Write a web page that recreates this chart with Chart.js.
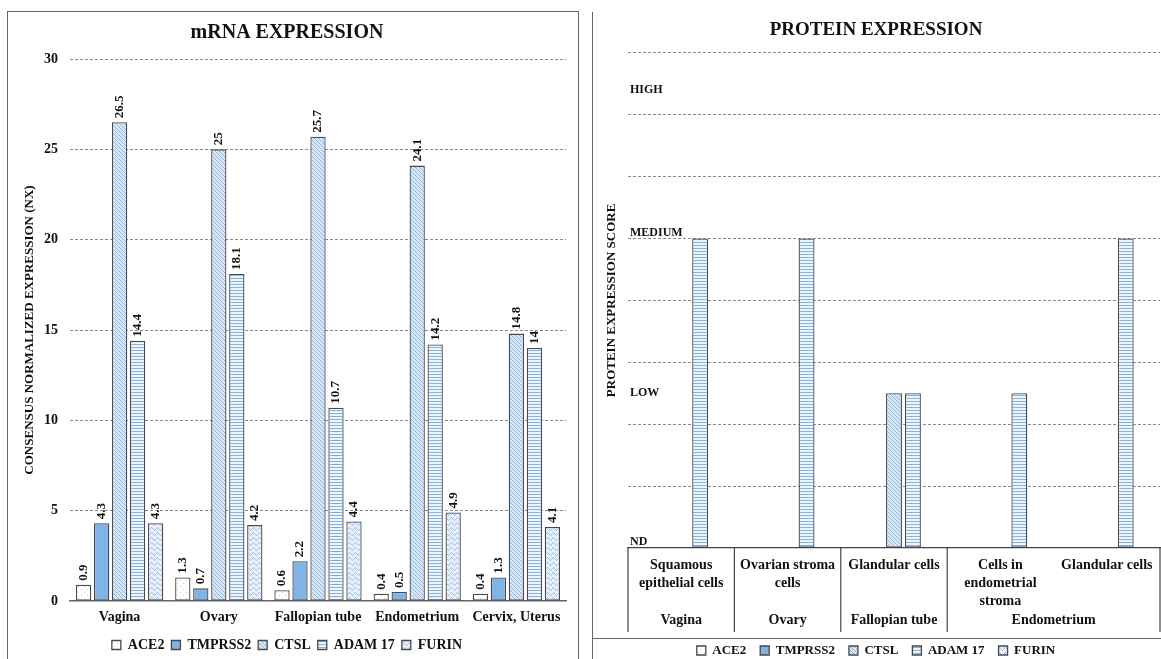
<!DOCTYPE html>
<html>
<head>
<meta charset="utf-8">
<script src="https://cdn.jsdelivr.net/npm/chart.js@4.4.0/dist/chart.umd.min.js"></script>
<style>
  html, body { margin: 0; padding: 0; background: #fff; width: 1161px; height: 659px; overflow: hidden; position: relative; }
  .box { position: absolute; }
  #leftFrame { left: 7px; top: 11px; width: 572px; height: 700px; border: 1.5px solid #666; box-sizing: border-box; pointer-events: none; }
  #rightLine { left: 592px; top: 12px; width: 0; height: 660px; border-left: 1.5px solid #666; }
  #legendLine { left: 592px; top: 638px; width: 569px; height: 0; border-top: 1.5px solid #666; }
  #leftWrap { left: 8px; top: 12px; width: 570px; height: 650px; }
  #rightWrap { left: 592px; top: 12px; width: 569px; height: 655px; }
</style>
</head>
<body>
<div class="box" id="leftWrap"><canvas id="mrnaChart"></canvas></div>
<div class="box" id="rightWrap"><canvas id="proteinChart"></canvas></div>
<div class="box" id="leftFrame"></div>
<div class="box" id="rightLine"></div>
<div class="box" id="legendLine"></div>
<script>
// genes / legend
const geneNames = ['ACE2', 'TMPRSS2', 'CTSL', 'ADAM 17', 'FURIN'];

// mRNA expression (NX)
const tissues = ['Vagina', 'Ovary', 'Fallopian tube', 'Endometrium', 'Cervix, Uterus'];
const mrnaACE2 = [0.9, 1.3, 0.6, 0.4, 0.4];
const mrnaTMPRSS2 = [4.3, 0.7, 2.2, 0.5, 1.3];
const mrnaCTSL = [26.5, 25, 25.7, 24.1, 14.8];
const mrnaADAM17 = [14.4, 18.1, 10.7, 14.2, 14];
const mrnaFURIN = [4.3, 4.2, 4.4, 4.9, 4.1];
const mrnaTicks = [0, 5, 10, 15, 20, 25, 30];

// protein expression score
const cellTypes = [['Squamous', 'epithelial cells'], ['Ovarian stroma', 'cells'], ['Glandular cells'], ['Cells in', 'endometrial', 'stroma'], ['Glandular cells']];
const cellTissues = ['Vagina', 'Ovary', 'Fallopian tube', 'Endometrium'];
const cellTissueSpan = [1, 1, 1, 2];
const protACE2 = [0, 0, 0, 0, 0];
const protTMPRSS2 = [0, 0, 0, 0, 0];
const protCTSL = [0, 0, 2.5, 0, 0];
const protADAM17 = [5, 5, 2.5, 2.5, 5];
const protFURIN = [0, 0, 0, 0, 0];
const scoreNames = ['ND', 'LOW', 'MEDIUM', 'HIGH'];
const scoreValues = [0, 2.5, 5, 7.5];
const scoreGrid = [0, 1, 2, 3, 4, 5, 6, 7, 8];

const serif = "'Liberation Serif', 'Times New Roman', serif";
Chart.defaults.font.family = serif;
Chart.defaults.font.weight = 'bold';
Chart.defaults.color = '#111';

// fill patterns like the excel ones
function makePattern(kind) {
  const c = document.createElement('canvas');
  const g = c.getContext('2d');
  if (kind === 'dots') {
    c.width = 6; c.height = 6;
    g.fillStyle = '#ffffff'; g.fillRect(0, 0, 6, 6);
    g.fillStyle = '#c4d3e3'; g.fillRect(1, 1, 1, 1); g.fillRect(4, 4, 1, 1);
  } else if (kind === 'diag') {
    c.width = 4; c.height = 4;
    g.fillStyle = '#d7e7f8'; g.fillRect(0, 0, 4, 4);
    g.fillStyle = '#8fb6de';
    for (let i = 0; i < 4; i++) g.fillRect(i, i, 1, 1);
  } else if (kind === 'hstripe') {
    c.width = 4; c.height = 3;
    g.fillStyle = '#eef5fc'; g.fillRect(0, 0, 4, 3);
    g.fillStyle = '#84b3e3'; g.fillRect(0, 2, 4, 1);
  } else if (kind === 'zigzag') {
    c.width = 6; c.height = 5;
    g.fillStyle = '#e6effa'; g.fillRect(0, 0, 6, 5);
    g.fillStyle = '#9cc1e7';
    g.fillRect(0, 1, 1, 1); g.fillRect(1, 2, 1, 1); g.fillRect(2, 3, 1, 1);
    g.fillRect(3, 2, 1, 1); g.fillRect(4, 1, 1, 1); g.fillRect(5, 0, 1, 1);
  }
  return g.createPattern(c, 'repeat');
}
const geneFills = [makePattern('dots'), '#80b3e6', makePattern('diag'), makePattern('hstripe'), makePattern('zigzag')];

function buildSets(series, catPct, barPct) {
  return series.map((d, i) => ({
    label: geneNames[i],
    data: d,
    backgroundColor: geneFills[i],
    borderColor: '#4a4a4a',
    borderWidth: 1.3,
    borderSkipped: false,
    categoryPercentage: catPct,
    barPercentage: barPct
  }));
}

const gridColor = ctx => ctx.tick && ctx.tick.value === 0 ? 'rgba(0,0,0,0)' : '#8a8a8a';

// value labels rotated above the bars
const barValueLabels = {
  id: 'barValueLabels',
  afterDatasetsDraw(chart) {
    const ctx = chart.ctx;
    ctx.save();
    ctx.font = 'bold 13px ' + serif;
    ctx.fillStyle = '#111';
    ctx.textAlign = 'left';
    ctx.textBaseline = 'middle';
    chart.data.datasets.forEach((ds, di) => {
      chart.getDatasetMeta(di).data.forEach((bar, i) => {
        ctx.save();
        ctx.translate(bar.x, bar.y - 4);
        ctx.rotate(-Math.PI / 2);
        ctx.fillText(String(ds.data[i]), 0, 0);
        ctx.restore();
      });
    });
    ctx.restore();
  }
};

new Chart(document.getElementById('mrnaChart'), {
  type: 'bar',
  data: {
    labels: tissues,
    datasets: buildSets([mrnaACE2, mrnaTMPRSS2, mrnaCTSL, mrnaADAM17, mrnaFURIN], 0.907, 0.85)
  },
  options: {
    responsive: true,
    maintainAspectRatio: false,
    animation: false,
    layout: { padding: { left: 0, right: 12, top: 0, bottom: 0 } },
    plugins: {
      title: { display: true, text: 'mRNA EXPRESSION', font: { size: 20, weight: 'bold' }, color: '#111', padding: { top: 9, bottom: 14 } },
      legend: {
        position: 'bottom',
        labels: { boxWidth: 9, boxHeight: 9, padding: 7, font: { size: 14, weight: 'bold' }, color: '#111' }
      },
      tooltip: { enabled: false }
    },
    scales: {
      x: {
        grid: { display: false },
        border: { display: true, color: '#666', width: 1.5 },
        ticks: { padding: 0, font: { size: 14, weight: 'bold' }, color: '#111', maxRotation: 0, autoSkip: false },
        afterFit(scale) { scale.height = 30; }
      },
      y: {
        min: mrnaTicks[0],
        max: mrnaTicks[mrnaTicks.length - 1],
        grid: { color: gridColor, lineWidth: 1, drawTicks: false },
        border: { display: false, dash: [3, 2] },
        ticks: { stepSize: mrnaTicks[1] - mrnaTicks[0], padding: 12, font: { size: 14, weight: 'bold' }, color: '#111' },
        title: { display: true, text: 'CONSENSUS NORMALIZED EXPRESSION (NX)', font: { size: 13, weight: 'bold' }, color: '#111', padding: { top: 14, bottom: 0 } },
        afterFit(scale) { scale.width = 62; }
      }
    }
  },
  plugins: [barValueLabels]
});

// ND / LOW / MEDIUM / HIGH written inside the plot
const scoreLabels = {
  id: 'scoreLabels',
  afterDraw(chart) {
    const ctx = chart.ctx;
    const ys = chart.scales.y;
    const baselines = ['bottom', 'middle', 'bottom', 'top'];
    ctx.save();
    ctx.font = 'bold 12px ' + serif;
    ctx.fillStyle = '#111';
    ctx.textAlign = 'left';
    scoreNames.forEach((name, i) => {
      ctx.textBaseline = baselines[i];
      ctx.fillText(name, chart.chartArea.left + 2, ys.getPixelForValue(scoreValues[i]));
    });
    ctx.restore();
  }
};

// table under the protein chart: dividers and tissue names
const tissueTable = {
  id: 'tissueTable',
  afterDraw(chart) {
    const ctx = chart.ctx;
    const xs = chart.scales.x;
    const top = xs.top;
    const bottom = xs.bottom + 2;
    const edge = i => {
      if (i <= 0) return xs.left;
      if (i >= cellTypes.length) return xs.right;
      return (xs.getPixelForValue(i - 1) + xs.getPixelForValue(i)) / 2;
    };
    ctx.save();
    ctx.strokeStyle = '#444';
    ctx.lineWidth = 1.2;
    ctx.font = 'bold 14px ' + serif;
    ctx.fillStyle = '#111';
    ctx.textAlign = 'center';
    ctx.textBaseline = 'middle';
    let start = 0;
    const drawLine = x => { ctx.beginPath(); ctx.moveTo(x, top); ctx.lineTo(x, bottom); ctx.stroke(); };
    drawLine(edge(0));
    cellTissues.forEach((name, i) => {
      const end = start + cellTissueSpan[i];
      const x0 = edge(start), x1 = edge(end);
      drawLine(x1);
      ctx.fillText(name, (x0 + x1) / 2, xs.bottom - 10);
      start = end;
    });
    ctx.restore();
  }
};

new Chart(document.getElementById('proteinChart'), {
  type: 'bar',
  data: {
    labels: cellTypes,
    datasets: buildSets([protACE2, protTMPRSS2, protCTSL, protADAM17, protFURIN], 0.89, 0.84)
  },
  options: {
    responsive: true,
    maintainAspectRatio: false,
    animation: false,
    layout: { padding: { left: 0, right: 1, top: 0, bottom: 0 } },
    plugins: {
      title: { display: true, text: 'PROTEIN EXPRESSION', font: { size: 19, weight: 'bold' }, color: '#111', padding: { top: 7, bottom: 11 } },
      legend: {
        position: 'bottom',
        labels: { boxWidth: 9, boxHeight: 9, padding: 14, font: { size: 13, weight: 'bold' }, color: '#111' }
      },
      tooltip: { enabled: false }
    },
    scales: {
      x: {
        grid: { display: false },
        border: { display: true, color: '#444', width: 1.2 },
        ticks: { padding: 0, font: { size: 14, weight: 'bold', lineHeight: 1.3 }, color: '#111', maxRotation: 0, autoSkip: false },
        afterFit(scale) { scale.height = 82; }
      },
      y: {
        min: scoreGrid[0],
        max: scoreGrid[scoreGrid.length - 1],
        grid: { color: gridColor, lineWidth: 1, drawTicks: false },
        border: { display: false, dash: [3, 2] },
        ticks: { display: false, stepSize: scoreGrid[1] - scoreGrid[0] },
        title: { display: true, text: 'PROTEIN EXPRESSION SCORE', font: { size: 13, weight: 'bold' }, color: '#111', padding: { top: 12, bottom: 0 } },
        afterFit(scale) { scale.width = 36; }
      }
    }
  },
  plugins: [scoreLabels, tissueTable]
});
</script>
</body>
</html>
